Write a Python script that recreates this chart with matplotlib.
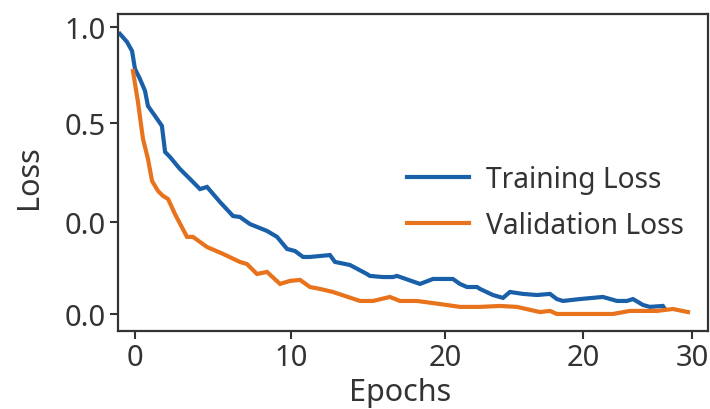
import matplotlib
matplotlib.use("Agg")
import matplotlib.pyplot as plt

plt.rcParams['font.family'] = ['Noto Sans', 'DejaVu Sans']

# training loss per epoch
train_epochs = [-0.81, -0.43, -0.16, 0.0, 0.27, 0.54, 0.70, 1.08, 1.45, 1.62, 1.88, 2.42,
                2.96, 3.50, 3.88, 4.58, 5.28, 5.65, 6.19, 7.11, 7.65, 8.19, 8.62, 9.05,
                9.42, 9.96, 10.50, 10.77, 11.58, 12.49, 12.65, 13.35, 13.89, 14.11, 15.35,
                16.05, 17.12, 17.50, 17.88, 18.42, 18.58, 19.28, 19.82, 20.19, 20.89,
                21.65, 22.35, 22.72, 23.05, 23.96, 25.20, 25.96, 26.49, 26.82, 27.36,
                27.73, 28.43, 28.54]
train_loss = [1.464, 1.422, 1.375, 1.281, 1.228, 1.166, 1.087, 1.035, 0.983, 0.847, 0.821,
              0.758, 0.706, 0.653, 0.664, 0.585, 0.512, 0.507, 0.470, 0.434, 0.403, 0.340,
              0.329, 0.298, 0.298, 0.303, 0.308, 0.272, 0.256, 0.209, 0.199, 0.193, 0.193,
              0.199, 0.157, 0.183, 0.183, 0.157, 0.141, 0.141, 0.131, 0.099, 0.084, 0.115,
              0.105, 0.099, 0.105, 0.078, 0.068, 0.078, 0.089, 0.068, 0.068, 0.078, 0.047,
              0.037, 0.042, 0.026]

# validation loss per epoch
val_epochs = [-0.11, 0.16, 0.43, 0.70, 0.92, 1.24, 1.51, 1.78, 2.15, 2.80, 3.12, 3.88,
              4.74, 5.65, 6.03, 6.57, 7.11, 7.81, 8.35, 8.89, 9.42, 9.96, 10.66, 12.12,
              12.82, 13.73, 14.27, 15.19, 16.42, 17.50, 18.58, 19.66, 20.57, 21.81, 22.35,
              22.72, 25.74, 26.66, 28.11, 28.97, 29.78]
val_loss = [1.270, 1.108, 0.915, 0.810, 0.695, 0.643, 0.617, 0.601, 0.523, 0.403, 0.403,
            0.350, 0.314, 0.272, 0.261, 0.209, 0.220, 0.157, 0.173, 0.178, 0.141, 0.131,
            0.115, 0.068, 0.068, 0.089, 0.068, 0.068, 0.052, 0.037, 0.037, 0.042, 0.037,
            0.010, 0.016, 0.000, 0.000, 0.016, 0.016, 0.026, 0.010]

xtick_pos = [0, 8.40, 16.69, 24.12, 30]
xtick_labels = ['0', '10', '20', '20', '30']
ytick_pos = [0, 0.48, 1.0, 1.5]
ytick_labels = ['0.0', '0.0', '0.5', '1.0']

blue = '#1a60a8'
orange = '#e8731c'
ink = '#333333'

fig = plt.figure(figsize=(7.1, 4.1), dpi=100)
ax = fig.add_axes([118 / 710, 78 / 410, 590 / 710, 317 / 410])

ax.plot(train_epochs, train_loss, color=blue, lw=3.0, label='Training Loss',
        solid_joinstyle='miter')
ax.plot(val_epochs, val_loss, color=orange, lw=3.0, label='Validation Loss',
        solid_joinstyle='miter')

ax.set_xlim(-0.915, 30.86)
ax.set_ylim(-0.089, 1.568)
ax.set_xticks(xtick_pos)
ax.set_xticklabels(xtick_labels)
ax.set_yticks(ytick_pos)
ax.set_yticklabels(ytick_labels)

for s in ax.spines.values():
    s.set_color(ink)
    s.set_linewidth(1.6)

ax.tick_params(axis='both', direction='out', length=6, width=1.5, color=ink,
               labelcolor=ink, labelsize=21, pad=3)

ax.set_xlabel('Epochs', fontsize=22, color=ink)
ax.xaxis.set_label_coords((400 - 118) / 590, -0.145)
ax.set_ylabel('Loss', fontsize=22, color=ink)
ax.yaxis.set_label_coords(-0.125, 0.49)

leg = ax.legend(loc='upper left', bbox_to_anchor=(407 / 710, 1 - 166 / 410),
                bbox_transform=fig.transFigure, frameon=False, fontsize=20.3,
                handlelength=2.2, handletextpad=0.6, labelspacing=0.6,
                borderpad=0, borderaxespad=0)
for t in leg.get_texts():
    t.set_color(ink)

fig.savefig('out.png', dpi=100)
